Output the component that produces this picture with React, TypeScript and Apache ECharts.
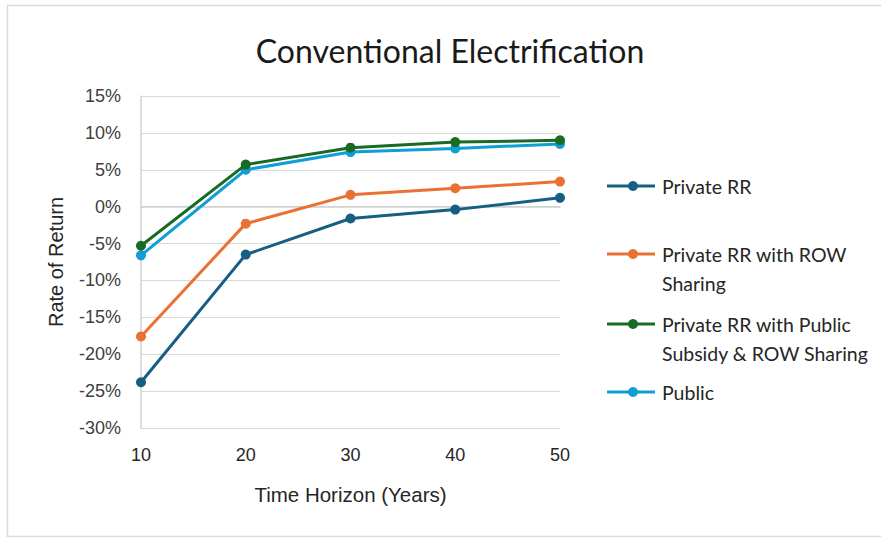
import React, { useEffect, useRef } from "react";
import * as echarts from "echarts";

const years = [10, 20, 30, 40, 50];
const seriesNames = [
  "Private RR",
  "Private RR with ROW Sharing",
  "Private RR with Public Subsidy & ROW Sharing",
  "Public",
];
const legendLines = [
  ["Private RR"],
  ["Private RR with ROW", "Sharing"],
  ["Private RR with Public", "Subsidy & ROW Sharing"],
  ["Public"],
];
const privateRR = [-23.8, -6.5, -1.6, -0.4, 1.2];
const privateRRRow = [-17.6, -2.3, 1.6, 2.5, 3.4];
const privateRRSubsidy = [-5.3, 5.7, 8.0, 8.75, 9.0];
const publicRR = [-6.6, 5.0, 7.4, 7.9, 8.5];
const colors = ["#156082", "#E97132", "#196B24", "#0F9ED5"];

export default function App() {
  const ref = useRef<HTMLDivElement>(null);
  useEffect(() => {
    if (!ref.current) return;
    const chart = echarts.init(ref.current, null, { renderer: "svg" });
    const allData = [privateRR, privateRRRow, privateRRSubsidy, publicRR];
    const legendTops = [186, 254, 324, 392];
    const legendGraphics: any[] = [];
    legendLines.forEach((lines, i) => {
      const y = legendTops[i];
      legendGraphics.push({
        type: "line",
        shape: { x1: 607, y1: y, x2: 655, y2: y },
        style: { stroke: colors[i], lineWidth: 3 },
      });
      legendGraphics.push({
        type: "circle",
        shape: { cx: 633, cy: y, r: 5 },
        style: { fill: colors[i] },
      });
      lines.forEach((t, j) => {
        legendGraphics.push({
          type: "text",
          x: 662,
          y: y + j * 29,
          style: {
            text: t,
            fill: "#262626",
            font: "19.5px Lato, 'Open Sans', sans-serif",
            textVerticalAlign: "middle",
          },
        });
      });
    });
    chart.setOption({
      animation: false,
      backgroundColor: "#ffffff",
      title: {
        text: "Conventional Electrification",
        left: 445,
        top: 29,
        textAlign: "center",
        textStyle: {
          fontFamily: "Lato, 'Open Sans', sans-serif",
          fontSize: 32,
          fontWeight: "normal",
          color: "#1a1a1a",
        },
      },
      grid: { left: 141, right: 321, top: 96, bottom: 109, containLabel: false },
      xAxis: {
        type: "value",
        min: 10,
        max: 50,
        interval: 10,
        name: "Time Horizon (Years)",
        nameLocation: "middle",
        nameGap: 56,
        nameTextStyle: {
          fontFamily: "'Liberation Sans', Arial, sans-serif",
          fontSize: 20.5,
          color: "#262626",
        },
        axisLine: { show: true, lineStyle: { color: "#d0d0d0", width: 1.5 } },
        axisTick: { show: false },
        splitLine: { show: false },
        axisLabel: {
          margin: 18,
          fontFamily: "'Liberation Sans', Arial, sans-serif",
          fontSize: 18,
          color: "#262626",
        },
      },
      yAxis: {
        type: "value",
        min: -30,
        max: 15,
        interval: 5,
        name: "Rate of Return",
        nameLocation: "middle",
        nameGap: 75,
        nameTextStyle: {
          fontFamily: "'Liberation Sans', Arial, sans-serif",
          fontSize: 20,
          color: "#262626",
        },
        axisLine: { show: true, lineStyle: { color: "#d0d0d0", width: 1.5 } },
        axisTick: { show: false },
        splitLine: { show: true, lineStyle: { color: "#d9d9d9", width: 1.2 } },
        axisLabel: {
          margin: 20,
          formatter: (v: number) => `${v}%`,
          fontFamily: "'Liberation Sans', Arial, sans-serif",
          fontSize: 18,
          color: "#404040",
        },
      },
      series: seriesNames.map((name, i) => ({
        name,
        type: "line",
        data: years.map((yr, k) => [yr, allData[i][k]]),
        symbol: "circle",
        symbolSize: 10,
        lineStyle: { color: colors[i], width: 3 },
        itemStyle: { color: colors[i] },
        z: 10 - i,
      })),
      graphic: [
        {
          type: "rect",
          shape: { x: 7.5, y: 5.5, width: 900, height: 531 },
          style: { fill: "none", stroke: "#d9d9d9", lineWidth: 1.5 },
          silent: true,
        },
        ...legendGraphics,
      ],
    });
    return () => chart.dispose();
  }, []);
  return (
    <div
      ref={ref}
      style={{ position: "fixed", left: 0, top: 0, width: 881, height: 537 }}
    />
  );
}
